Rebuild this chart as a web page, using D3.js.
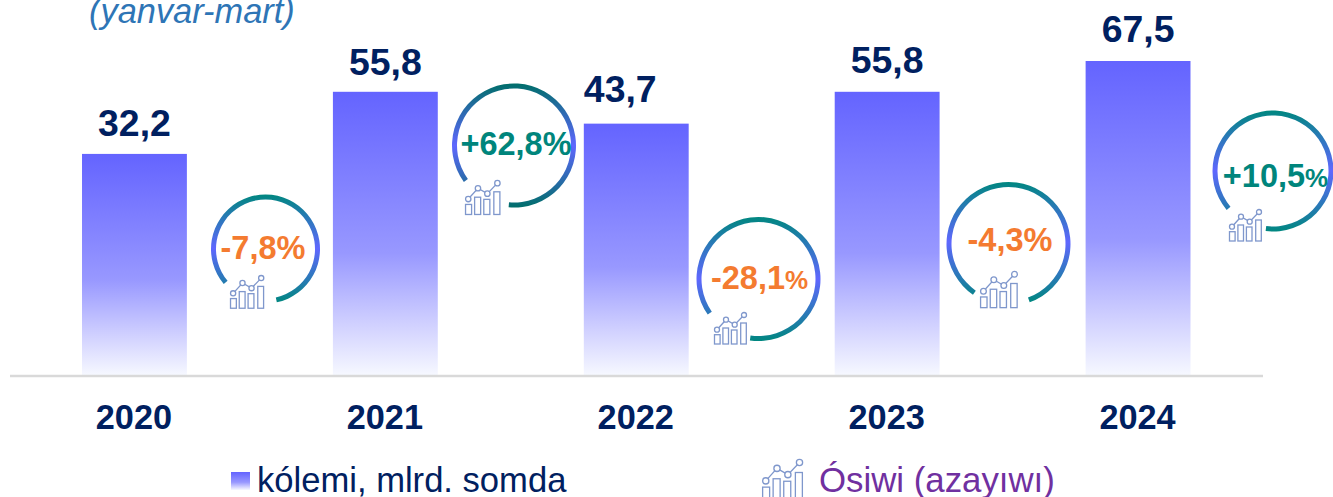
<!DOCTYPE html>
<html><head><meta charset="utf-8">
<script src="https://cdn.jsdelivr.net/npm/d3@7"></script>
<style>html,body{margin:0;padding:0;background:#fff;overflow:hidden}svg{display:block}text{font-family:"Liberation Sans",Arial,sans-serif}</style>
</head><body><svg id="c" width="1333" height="497"></svg>
<script>
const years = ["2020","2021","2022","2023","2024"];
const volumes = [32.2,55.8,43.7,55.8,67.5];
const volumeLabels = ["32,2","55,8","43,7","55,8","67,5"];
const growthMain = ["-7,8","+62,8","-28,1","-4,3","+10,5"];
const growthPercentSmall = [false,false,true,false,true];
const growthPositive = [false,true,false,false,true];
const titleText = "(yanvar-mart)";
const legendVolume = "kólemi, mlrd. somda";
const legendGrowth = "Ósiwi (azayıwı)";

// layout only
const labelLayout = [[0,18],[0,17],[-16,22],[0,19],[0,19.5]];
const badgeLayout = [
  {cx:265.5,cy:249,r:52,a0:230,a1:528,ix:230,iy:276,k:1.04,tx:-2.5,ty:10.3,dark:false},
  {cx:514,cy:145.5,r:59.5,a0:234,a1:545,ix:465,iy:181,k:1.08,tx:2,ty:9.5,dark:true},
  {cx:758.5,cy:279,r:59.5,a0:235,a1:548,ix:714,iy:313,k:1,tx:1,ty:9.5,dark:false},
  {cx:1008.5,cy:244,r:59.5,a0:215,a1:520,ix:980,iy:272,k:1.15,tx:1.5,ty:7,dark:false},
  {cx:1273,cy:171,r:58,a0:230,a1:547,ix:1229,iy:210,k:1,tx:2.5,ty:16,dark:false}
];

const svg = d3.select("#c");
const defs = svg.append("defs");
const barGrad = defs.append("linearGradient").attr("id","bar").attr("x1",0).attr("y1",0).attr("x2",0).attr("y2",1);
[[0,"#6464ff"],[0.57,"#9898ff"],[0.82,"#d0d0ff"],[1,"#f6f8ff"]].forEach(s=>
  barGrad.append("stop").attr("offset",s[0]).attr("stop-color",s[1]));
function ringGrad(id,c){
  const g = defs.append("linearGradient").attr("id",id).attr("x1",0).attr("y1",0).attr("x2",0).attr("y2",1);
  g.append("stop").attr("offset",0).attr("stop-color",c);
  g.append("stop").attr("offset",0.5).attr("stop-color","#5f67ff");
  g.append("stop").attr("offset",1).attr("stop-color",c);
}
ringGrad("ring","#008780");
ringGrad("ringDark","#006e6a");

const x = d3.scaleBand().domain(years).range([9,1263.5]).paddingInner(0.582).paddingOuter(0.291);
const y = d3.scaleLinear().domain([-51.8,67.5]).range([375,61]);

svg.selectAll("rect.bar").data(years).join("rect").attr("class","bar")
  .attr("x",d=>x(d)).attr("width",x.bandwidth())
  .attr("y",(d,i)=>y(volumes[i])).attr("height",(d,i)=>y(-51.8)-y(volumes[i]))
  .attr("fill","url(#bar)");

svg.append("line").attr("x1",10).attr("x2",1263).attr("y1",376).attr("y2",376)
  .attr("stroke","#d9d9d9").attr("stroke-width",2.5);

svg.selectAll("text.val").data(years).join("text").attr("class","val")
  .attr("x",(d,i)=>x(d)+x.bandwidth()/2+labelLayout[i][0])
  .attr("y",(d,i)=>y(volumes[i])-labelLayout[i][1])
  .attr("text-anchor","middle").attr("font-size",37.4).attr("font-weight",700).attr("fill","#002060")
  .text((d,i)=>volumeLabels[i]);

svg.selectAll("text.year").data(years).join("text").attr("class","year")
  .attr("x",d=>x(d)+x.bandwidth()/2-0.5).attr("y",429)
  .attr("text-anchor","middle").attr("font-size",34.3).attr("font-weight",700).attr("fill","#002060")
  .text(d=>d);

svg.append("text").attr("x",89).attr("y",23).attr("font-size",34.4).attr("font-style","italic")
  .attr("fill","#2e75b6").text(titleText);

function icon(g,k){
  const ic = g.append("g").attr("fill","none").attr("stroke","#7f97cc").attr("stroke-width",1.3/k);
  const bars = [[0.5,9.3],[8.9,16],[17.4,14],[26.7,21]];
  bars.forEach(b=>ic.append("rect").attr("x",b[0]).attr("y",31-b[1]).attr("width",5.6).attr("height",b[1]));
  const pts = [[3,16.7],[12,6.7],[20.7,11.7],[30,2]];
  ic.append("path").attr("d",d3.line()(pts));
  pts.forEach(p=>ic.append("circle").attr("cx",p[0]).attr("cy",p[1]).attr("r",2.5).attr("fill","#fff"));
}

const rad = Math.PI/180;
badgeLayout.forEach((b,i)=>{
  const g = svg.append("g").attr("transform",`translate(${b.cx},${b.cy})`);
  g.append("path").attr("d",d3.arc()({innerRadius:b.r-2.5,outerRadius:b.r+2.5,startAngle:b.a0*rad,endAngle:b.a1*rad}))
    .attr("fill",`url(#${b.dark?"ringDark":"ring"})`);
  const col = growthPositive[i] ? "#00857c" : "#f47b30";
  const t = g.append("text").attr("text-anchor","middle").attr("x",b.tx).attr("y",b.ty).attr("font-size",32.5).attr("font-weight",700).attr("fill",col);
  t.append("tspan").text(growthMain[i]);
  t.append("tspan").attr("font-size",growthPercentSmall[i]?26:32.5).text("%");
  const ig = svg.append("g").attr("transform",`translate(${b.ix},${b.iy}) scale(${b.k})`);
  icon(ig,b.k);
});

svg.append("rect").attr("x",231).attr("y",472).attr("width",19).attr("height",18).attr("fill","url(#bar)");
svg.append("text").attr("x",257).attr("y",492).attr("font-size",34.6).attr("fill","#002060").text(legendVolume);
const lg = svg.append("g").attr("transform","translate(762,460) scale(1.25)");
icon(lg,1.25);
svg.append("text").attr("x",819).attr("y",492).attr("font-size",34.8).attr("fill","#7030a0").text(legendGrowth);
</script></body></html>
